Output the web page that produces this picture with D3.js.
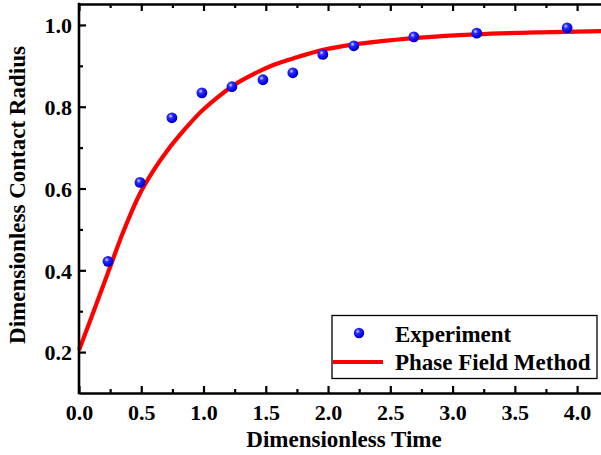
<!DOCTYPE html>
<html><head><meta charset="utf-8">
<script src="https://cdn.jsdelivr.net/npm/d3@7"></script>
<style>
html,body{margin:0;padding:0;background:#fff;overflow:hidden;}
text{font-family:"Liberation Serif","Times New Roman",serif;font-weight:bold;fill:#000;}
</style></head>
<body>
<svg id="chart" width="601" height="455"></svg>
<script>
// Experiment data
const expX = [0.233, 0.49, 0.746, 0.987, 1.228, 1.477, 1.717, 1.958, 2.207, 2.689, 3.194, 3.92];
const expY = [0.422, 0.615, 0.773, 0.834, 0.849, 0.866, 0.883, 0.928, 0.949, 0.971, 0.980, 0.993];
// Phase field method curve
const pfX = [0, 0.1, 0.24, 0.35, 0.49, 0.6, 0.71, 0.85, 0.97, 1.1, 1.24, 1.45, 1.56, 1.75, 1.96, 2.2, 2.36, 2.74, 3.19, 3.7, 4.2];
const pfY = [0.205, 0.285, 0.40, 0.49, 0.588, 0.645, 0.693, 0.745, 0.785, 0.82, 0.852, 0.887, 0.902, 0.921, 0.939, 0.952, 0.958, 0.969, 0.977, 0.982, 0.985];
const xTicks = [0, 0.5, 1.0, 1.5, 2.0, 2.5, 3.0, 3.5, 4.0];
const xMinor = [0.25, 0.75, 1.25, 1.75, 2.25, 2.75, 3.25, 3.75];
const yTicks = [0.2, 0.4, 0.6, 0.8, 1.0];
const yMinor = [0.3, 0.5, 0.7, 0.9];
const seriesNames = ["Experiment", "Phase Field Method"];
const xTitle = "Dimensionless Time";
const yTitle = "Dimensionless Contact Radius";

const svg = d3.select("#chart");
const L = 79, R = 602, T = 4, B = 393;
const x = d3.scaleLinear().domain([0, 4.2]).range([L, R]);
const y = d3.scaleLinear().domain([0.1, 1.05]).range([B, T + 0.5]);

const defs = svg.append("defs");
const grad = defs.append("radialGradient").attr("id", "ball")
  .attr("cx", "0.38").attr("cy", "0.35").attr("r", "0.7");
grad.append("stop").attr("offset", "0").attr("stop-color", "#d8d8ff");
grad.append("stop").attr("offset", "0.3").attr("stop-color", "#2a2aff");
grad.append("stop").attr("offset", "0.8").attr("stop-color", "#0000e0");
grad.append("stop").attr("offset", "1").attr("stop-color", "#00008a");

// curve
const pts = pfX.map((d, i) => [d, pfY[i]]);
svg.append("path").datum(pts)
  .attr("fill", "none").attr("stroke", "#ff0000").attr("stroke-width", 4.2)
  .attr("d", d3.line().x(d => x(d[0])).y(d => y(d[1])).curve(d3.curveMonotoneX));

// experiment points
svg.selectAll("circle.exp").data(expX.map((d, i) => [d, expY[i]])).enter()
  .append("circle").attr("class", "exp")
  .attr("cx", d => x(d[0])).attr("cy", d => y(d[1])).attr("r", 5.4)
  .attr("fill", "url(#ball)");

// axes
const axW = 2.6;
const gBottom = svg.append("g").attr("transform", `translate(0,${B})`)
  .call(d3.axisBottom(x).tickValues(xTicks).tickSizeInner(-7).tickSizeOuter(0).tickFormat(d3.format(".1f")));
gBottom.select(".domain").attr("stroke-width", axW);
gBottom.selectAll(".tick line").attr("stroke-width", 2.2);
gBottom.selectAll(".tick text").attr("font-size", 22).attr("dy", "0.71em").attr("y", 11);
svg.append("g").attr("transform", `translate(0,${B})`)
  .call(d3.axisBottom(x).tickValues(xMinor).tickSizeInner(-4).tickSizeOuter(0).tickFormat(""))
  .call(g => { g.select(".domain").remove(); g.selectAll(".tick line").attr("stroke-width", 2.2); });

const gTop = svg.append("g").attr("transform", `translate(0,${T})`)
  .call(d3.axisTop(x).tickValues(xTicks).tickSizeInner(-7).tickSizeOuter(0).tickFormat(""));
gTop.select(".domain").attr("stroke-width", axW);
gTop.selectAll(".tick line").attr("stroke-width", 2.2);
svg.append("g").attr("transform", `translate(0,${T})`)
  .call(d3.axisTop(x).tickValues(xMinor).tickSizeInner(-4).tickSizeOuter(0).tickFormat(""))
  .call(g => { g.select(".domain").remove(); g.selectAll(".tick line").attr("stroke-width", 2.2); });

const gLeft = svg.append("g").attr("transform", `translate(${L},0)`)
  .call(d3.axisLeft(y).tickValues(yTicks).tickSizeInner(-7).tickSizeOuter(0).tickFormat(d3.format(".1f")));
gLeft.select(".domain").attr("stroke-width", axW).attr("d", `M0,${B + 1.3}V${T - 1.3}`);
gLeft.selectAll(".tick line").attr("stroke-width", 2.2);
gLeft.selectAll(".tick text").attr("font-size", 22).attr("x", -7).attr("dy", "0.35em");
svg.append("g").attr("transform", `translate(${L},0)`)
  .call(d3.axisLeft(y).tickValues(yMinor).tickSizeInner(-4).tickSizeOuter(0).tickFormat(""))
  .call(g => { g.select(".domain").remove(); g.selectAll(".tick line").attr("stroke-width", 2.2); });

svg.selectAll(".tick text").attr("font-family", "Liberation Serif").attr("font-weight", "bold").attr("fill", "#000");

// titles
svg.append("text").attr("x", 344).attr("y", 447).attr("text-anchor", "middle")
  .attr("font-size", 23).text(xTitle);
svg.append("text").attr("transform", "translate(25,195) rotate(-90)").attr("text-anchor", "middle")
  .attr("font-size", 23).text(yTitle);

// legend
const lg = svg.append("g");
lg.append("rect").attr("x", 332).attr("y", 315.5).attr("width", 265).attr("height", 63)
  .attr("fill", "#fff").attr("stroke", "#000").attr("stroke-width", 1.3);
lg.append("circle").attr("cx", 359).attr("cy", 333).attr("r", 5.2).attr("fill", "url(#ball)");
lg.append("text").attr("x", 395).attr("y", 342).attr("font-size", 23).text(seriesNames[0]);
lg.append("line").attr("x1", 333).attr("x2", 383).attr("y1", 362).attr("y2", 362)
  .attr("stroke", "#ff0000").attr("stroke-width", 4.2);
lg.append("text").attr("x", 395).attr("y", 370).attr("font-size", 23).text(seriesNames[1]);
</script>
</body></html>
